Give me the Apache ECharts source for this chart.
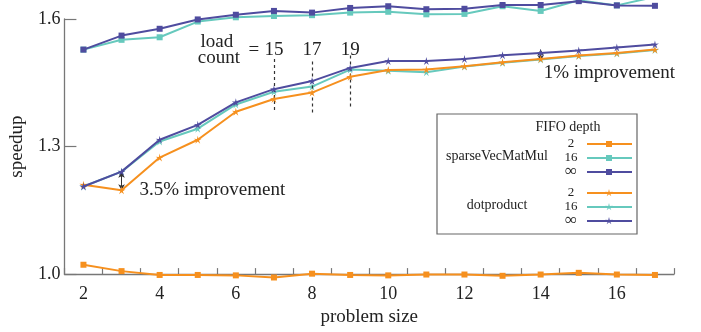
<!DOCTYPE html>
<html><head><meta charset="utf-8">
<script src="https://cdn.jsdelivr.net/npm/echarts@6/dist/echarts.min.js"></script>
<style>html,body{margin:0;padding:0;background:#fff}#c{width:701px;height:332px}</style>
</head><body><div id="c"></div>
<script>
// ---------- data ----------
const problemSize = [2,3,4,5,6,7,8,9,10,11,12,13,14,15,16,17];
const yTicks = [1.0, 1.3, 1.6];
const sparseFifo2   = [1.022,1.007,0.998,0.998,0.997,0.992,1.001,0.998,0.997,0.999,0.999,0.996,0.999,1.003,0.999,0.998];
const sparseFifo16  = [1.528,1.551,1.557,1.594,1.604,1.607,1.609,1.615,1.617,1.611,1.612,1.630,1.619,1.644,1.632,1.652];
const sparseFifoInf = [1.528,1.561,1.577,1.599,1.610,1.619,1.615,1.626,1.630,1.623,1.624,1.633,1.633,1.642,1.632,1.631];
const dotFifo2   = [1.210,1.197,1.274,1.316,1.382,1.412,1.427,1.464,1.480,1.481,1.489,1.498,1.506,1.514,1.520,1.528];
const dotFifo16  = [1.206,1.241,1.312,1.342,1.399,1.429,1.441,1.481,1.478,1.475,1.488,1.497,1.505,1.513,1.519,1.527];
const dotFifoInf = [1.206,1.241,1.316,1.351,1.404,1.435,1.454,1.485,1.501,1.501,1.506,1.515,1.520,1.526,1.533,1.540];
// annotations
const loadCountAt = [7, 8, 9];
const loadCountLabels = ['15', '17', '19'];
const loadCountLabelY = 1.528;
const dashTop = [1.506, 1.500, 1.514];
const dashBottom = [1.384, 1.377, 1.391];
const improveA = {x: 3, from: 1.241, to: 1.197, textY: 1.198, text: '3.5% improvement'};
const improveB = {x: 14, from: 1.528, to: 1.501, textY: 1.474, text: '1% improvement'};
const legendGroups = ['sparseVecMatMul', 'dotproduct'];
const legendDepths = ['2', '16', '\u221E'];

// ---------- style ----------
const FONT = 'Liberation Serif';
const C_OR = '#f6901e', C_TE = '#66c9bd', C_PU = '#4f4c9f';
const AX = '#777';
function starPath() {
  const p = [];
  for (let i = 0; i < 10; i++) {
    const r = i % 2 ? 0.32 : 1;
    const a = -Math.PI / 2 + i * Math.PI / 5;
    p.push((r * Math.cos(a)).toFixed(3) + ',' + (r * Math.sin(a)).toFixed(3));
  }
  return 'path://M' + p.join('L') + 'Z';
}
const STAR = starPath();

const cats = problemSize.map(String);
function mk(name, data, color, symbol, size, z) {
  return {type: 'line', name, data, clip: false, symbol, symbolSize: size, showSymbol: true,
    lineStyle: {color, width: 2}, itemStyle: {color}, z, animation: false, emphasis: {disabled: true}};
}
const dashItems = loadCountAt.map((x, i) => [
  {coord: [String(x), dashTop[i]], symbol: 'none', lineStyle: {type: [3, 3], color: '#333', width: 1.2}},
  {coord: [String(x), dashBottom[i]], symbol: 'none'}
]);
const arrowItems = [improveA, improveB].map(a => [
  {coord: [String(a.x), a.from], symbol: 'arrow', symbolSize: [5, 6], lineStyle: {type: 'solid', color: '#333', width: 1}},
  {coord: [String(a.x), a.to], symbol: 'arrow', symbolSize: [5, 6]}
]);

const chart = echarts.init(document.getElementById('c'), null, {renderer: 'canvas'});
const option = {
  animation: false,
  backgroundColor: '#fff',
  grid: {left: 61, top: 19, width: 613, height: 258, containLabel: false},
  xAxis: {
    type: 'category', data: cats, boundaryGap: true,
    axisLine: {show: true, lineStyle: {color: AX, width: 1.3}},
    axisTick: {show: true, inside: true, length: 6, interval: 0, lineStyle: {color: AX, width: 1.2}},
    axisLabel: {interval: (i, v) => Number(v) % 2 === 0, fontFamily: FONT, fontSize: 18, color: '#222', margin: 11},
    splitLine: {show: false},
    name: 'problem size', nameLocation: 'middle', nameGap: 32,
    nameTextStyle: {fontFamily: FONT, fontSize: 19, color: '#222'}
  },
  yAxis: {
    type: 'value', min: yTicks[0], max: yTicks[yTicks.length - 1], interval: 0.3,
    axisLine: {show: true, lineStyle: {color: AX, width: 1.3}},
    axisTick: {show: true, inside: true, length: 12, lineStyle: {color: AX, width: 1.2}},
    axisLabel: {formatter: v => v.toFixed(1), fontFamily: FONT, fontSize: 18, color: '#222', margin: 4},
    splitLine: {show: false},
    name: 'speedup', nameLocation: 'middle', nameGap: 28, nameRotate: 90,
    nameTextStyle: {fontFamily: FONT, fontSize: 19, color: '#222'}
  },
  series: [
    mk('sparse 2', sparseFifo2, C_OR, 'rect', 6, 2),
    mk('sparse 16', sparseFifo16, C_TE, 'rect', 6, 2),
    mk('sparse inf', sparseFifoInf, C_PU, 'rect', 6, 3),
    mk('dot 16', dotFifo16, C_TE, STAR, 8, 4),
    mk('dot 2', dotFifo2, C_OR, STAR, 8, 5),
    Object.assign(mk('dot inf', dotFifoInf, C_PU, STAR, 8, 6), {
      markLine: {silent: true, animation: false, label: {show: false}, symbol: ['none', 'none'],
        emphasis: {disabled: true}, data: dashItems.concat(arrowItems)}
    })
  ]
};
chart.setOption(option);

// ---------- text annotations & legend ----------
const px = (x, y) => chart.convertToPixel({xAxisIndex: 0, yAxisIndex: 0}, [String(x), y]);
const g = [];
const T = (x, y, text, size, align, extra) => g.push(Object.assign({type: 'text', x, y, silent: true,
  style: {text, fontFamily: FONT, fontSize: size, fill: '#222', align: align || 'center', verticalAlign: 'middle'}}, extra || {}));

loadCountAt.forEach((x, i) => { const p = px(x, loadCountLabelY); T(p[0], p[1], loadCountLabels[i], 19); });
const p15 = px(loadCountAt[0], loadCountLabelY);
T(p15[0] - 57, p15[1] - 8, 'load', 19);
T(p15[0] - 55, p15[1] + 8, 'count', 19);
T(p15[0] - 20, p15[1], '=', 19);
[improveA, improveB].forEach((a, k) => { const p = px(a.x, a.textY); T(p[0] + (k === 0 ? 18 : 3), p[1], a.text, 19, 'left'); });

// legend box
const LX = 437, LY = 114, LW = 200, LH = 120;
g.push({type: 'rect', shape: {x: LX, y: LY, width: LW, height: LH}, silent: true,
  style: {fill: '#fff', stroke: '#666', lineWidth: 1.2}, z: 50});
const lz = {z: 51};
T(568, 127, 'FIFO depth', 14, 'center', lz);
const rowsY = [[144, 158, 172], [193, 207, 221]];
const grpY = [156, 205];
const colors = [C_OR, C_TE, C_PU];
legendGroups.forEach((name, gi) => {
  T(497, grpY[gi], name, 14, 'center', lz);
  legendDepths.forEach((d, di) => {
    const y = rowsY[gi][di];
    T(571, y, d, di === 2 ? 17 : 13, 'center', lz);
    g.push({type: 'line', z: 51, silent: true, shape: {x1: 587, y1: y, x2: 632, y2: y}, style: {stroke: colors[di], lineWidth: 2}});
    if (gi === 0) {
      g.push({type: 'rect', z: 52, silent: true, shape: {x: 606, y: y - 3, width: 6, height: 6}, style: {fill: colors[di]}});
    } else {
      const pts = [];
      for (let i = 0; i < 10; i++) { const r = i % 2 ? 1.3 : 4; const a = -Math.PI / 2 + i * Math.PI / 5; pts.push([609 + r * Math.cos(a), y + r * Math.sin(a)]); }
      g.push({type: 'polygon', z: 52, silent: true, shape: {points: pts}, style: {fill: colors[di]}});
    }
  });
});
chart.setOption({graphic: g});
</script>
</body></html>
